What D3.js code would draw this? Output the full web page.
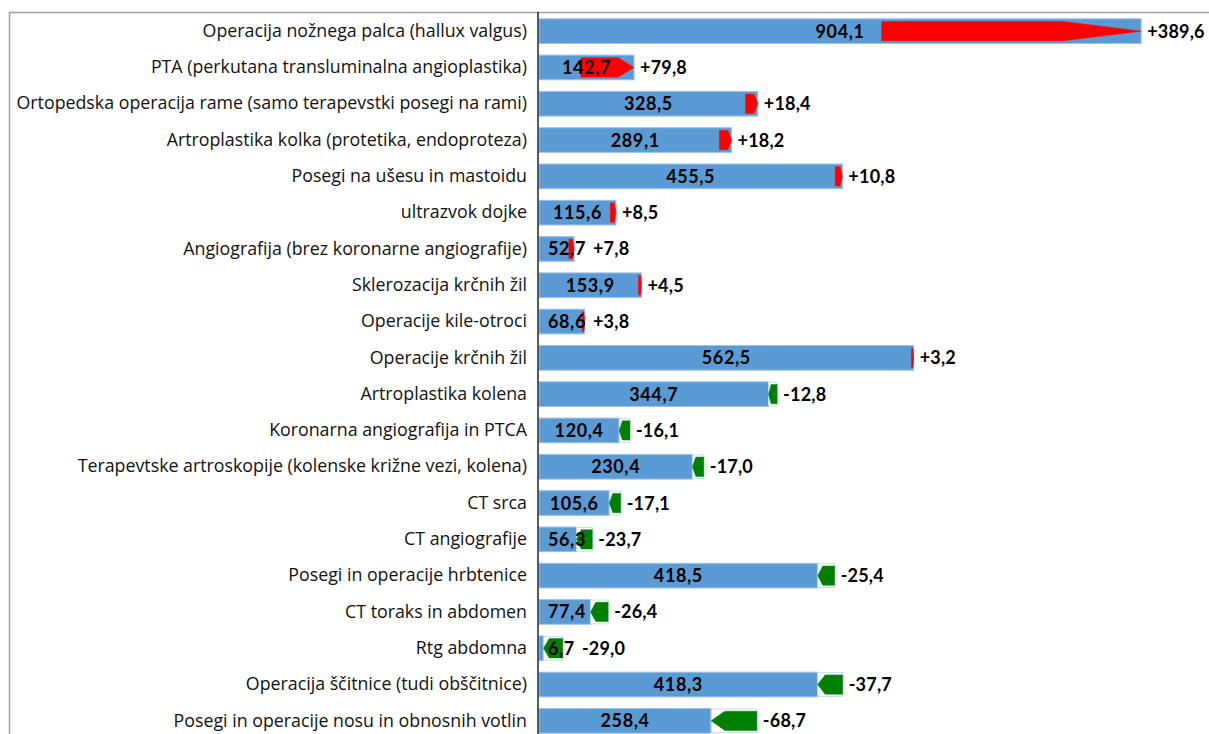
<!DOCTYPE html>
<html>
<head>
    <meta charset="utf-8">
    <style>
        body { margin: 0; background: #fff; }
        .cat text { font: 17.8px "Open Sans", sans-serif; fill: #111; }
        .val { font: bold 18px Lato, sans-serif; fill: #000; letter-spacing: 0.6px; }
        .chg { font: bold 18px Lato, sans-serif; fill: #000; letter-spacing: 0.2px; }
    </style>
    <script src="https://d3js.org/d3.v7.min.js"></script>
</head>
<body>
    <svg width="1209" height="734"></svg>
    <script>

        var categories = [
            "Operacija nožnega palca (hallux valgus)",
            "PTA (perkutana transluminalna angioplastika)",
            "Ortopedska operacija rame (samo terapevstki posegi na rami)",
            "Artroplastika kolka (protetika, endoproteza)",
            "Posegi na ušesu in mastoidu",
            "ultrazvok dojke",
            "Angiografija (brez koronarne angiografije)",
            "Sklerozacija krčnih žil",
            "Operacije kile-otroci",
            "Operacije krčnih žil",
            "Artroplastika kolena",
            "Koronarna angiografija in PTCA",
            "Terapevtske artroskopije (kolenske križne vezi, kolena)",
            "CT srca",
            "CT angiografije",
            "Posegi in operacije hrbtenice",
            "CT toraks in abdomen",
            "Rtg abdomna",
            "Operacija ščitnice (tudi obščitnice)",
            "Posegi in operacije nosu in obnosnih votlin"
        ];

        // current value
        var values = [904.1, 142.7, 328.5, 289.1, 455.5, 115.6, 52.7, 153.9, 68.6, 562.5,
                      344.7, 120.4, 230.4, 105.6, 56.3, 418.5, 77.4, 6.7, 418.3, 258.4];

        // change against previous value
        var changes = [389.6, 79.8, 18.4, 18.2, 10.8, 8.5, 7.8, 4.5, 3.8, 3.2,
                       -12.8, -16.1, -17.0, -17.1, -23.7, -25.4, -26.4, -29.0, -37.7, -68.7];

        var fmt = function(v) { return v.toFixed(1).replace(".", ","); };
        var fmtChg = function(v) { return (v > 0 ? "+" : "") + fmt(v); };

        var svg = d3.select("svg");
        var x0 = 538;

        var x = d3.scaleLinear().domain([0, 1000]).range([x0 + 1, x0 + 667]);
        var y = d3.scaleBand().domain(categories).range([13, 13 + 20 * 36.3])
                  .paddingInner(0.32).paddingOuter(0.16);

        // outer frame
        svg.append("path")
           .attr("d", "M9.5,734 V12.5 H1209")
           .attr("fill", "none")
           .attr("stroke", "#a0a0a0")
           .attr("stroke-width", 1.5);

        var rows = categories.map(function(c, i) {
            return { cat: c, val: values[i], chg: changes[i], prev: values[i] - changes[i] };
        });

        // blue bars (current value)
        svg.selectAll(".bar")
           .data(rows)
           .enter().append("rect")
           .attr("class", "bar")
           .attr("x", x(0))
           .attr("y", function(d) { return y(d.cat); })
           .attr("width", function(d) { return x(d.val) - x(0); })
           .attr("height", y.bandwidth())
           .attr("fill", "#5B9BD5")
           .attr("stroke", "#9DC3E6")
           .attr("stroke-width", 1);

        // faint outline where a decrease was
        svg.selectAll(".ghost")
           .data(rows.filter(function(d) { return d.chg < 0; }))
           .enter().append("rect")
           .attr("x", function(d) { return x(d.val); })
           .attr("y", function(d) { return y(d.cat) + 0.5; })
           .attr("width", function(d) { return x(d.prev) - x(d.val); })
           .attr("height", y.bandwidth() - 1)
           .attr("fill", "none")
           .attr("stroke", "#C5DCF0")
           .attr("stroke-width", 1);

        // arrows from previous to current value
        var arrow = function(d) {
            var a = x(d.prev), b = x(d.val);
            var h = y.bandwidth() * 0.78;
            var top = y(d.cat) + (y.bandwidth() - h) / 2, bot = top + h, mid = top + h / 2;
            var len = Math.abs(b - a);
            var head = len * 0.3;
            var dir = b > a ? 1 : -1;
            var hx = b - dir * head;
            return "M" + a + "," + top + " L" + hx + "," + top + " L" + b + "," + mid +
                   " L" + hx + "," + bot + " L" + a + "," + bot + " Z";
        };

        svg.selectAll(".arrow")
           .data(rows)
           .enter().append("path")
           .attr("class", "arrow")
           .attr("d", arrow)
           .attr("fill", function(d) { return d.chg > 0 ? "#FF0000" : "#008000"; })
           .attr("stroke", function(d) { return d.chg > 0 ? "#FF0000" : "#008000"; })
           .attr("stroke-width", 0.5);

        // value labels, centred in the bar but kept clear of the axis
        var valLabels = svg.selectAll(".val")
           .data(rows)
           .enter().append("text")
           .attr("class", "val")
           .attr("y", function(d) { return y(d.cat) + y.bandwidth() / 2; })
           .attr("dy", "0.36em")
           .text(function(d) { return fmt(d.val); });

        var valRight = [];
        valLabels.each(function(d, i) {
            var w = this.getComputedTextLength();
            var left = Math.max((x(0) + x(d.val)) / 2 - w / 2, x0 + 10);
            d3.select(this).attr("x", left);
            valRight[i] = left + w;
        });

        // change labels
        svg.selectAll(".chg")
           .data(rows)
           .enter().append("text")
           .attr("class", "chg")
           .attr("x", function(d, i) {
               return Math.max(x(Math.max(d.val, d.prev)) + 6, valRight[i] + 7);
           })
           .attr("y", function(d) { return y(d.cat) + y.bandwidth() / 2; })
           .attr("dy", "0.36em")
           .text(function(d) { return fmtChg(d.chg); });

        // category axis
        var axis = svg.append("g")
           .attr("class", "cat")
           .attr("transform", "translate(" + x0 + ",0)")
           .call(d3.axisLeft(y).tickSize(0).tickPadding(11));

        axis.select(".domain")
            .attr("d", "M0,12 V734")
            .attr("stroke", "#222")
            .attr("stroke-width", 1.5);
        axis.selectAll("text").attr("fill", "#111");

    </script>
</body>
</html>
